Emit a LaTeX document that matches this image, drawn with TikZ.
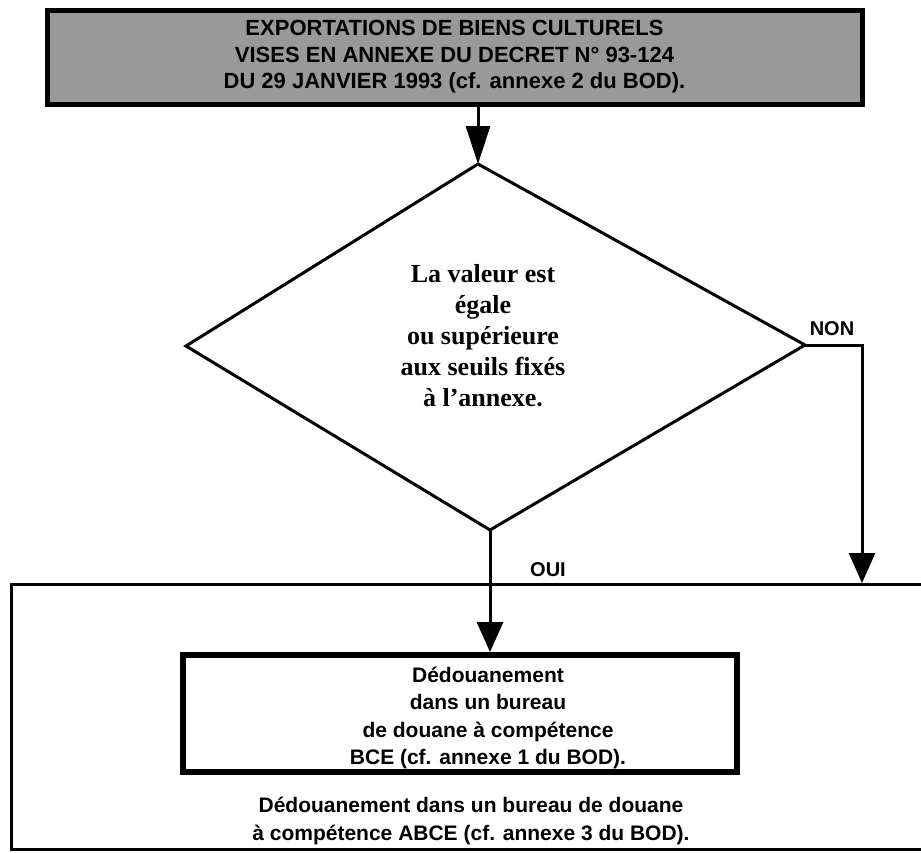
\documentclass[tikz,border=0pt]{standalone}
\usepackage{fontspec}
\setmainfont{Liberation Serif}
\newfontfamily\sansf{Liberation Sans}
\usetikzlibrary{arrows.meta}
\begin{document}
\begin{tikzpicture}[x=1pt,y=-1pt,
  conn/.style={line width=3pt},
  arr/.style={-{Triangle[width=26pt,length=30pt]}},
  longarr/.style={-{Triangle[width=24pt,length=38pt]}},
  topbox/.style={draw, line width=5pt, fill=black!40, minimum width=815pt, minimum height=94pt,
    inner sep=0pt, align=center, font=\sansf\bfseries\fontsize{22}{26.5}\selectfont},
  dectext/.style={align=center, inner sep=0pt, font=\bfseries\fontsize{26}{31}\selectfont},
  bcebox/.style={draw, line width=6pt, minimum width=554pt, minimum height=117pt, inner sep=0pt},
  outerbox/.style={draw, line width=3pt, minimum width=930pt, minimum height=265pt, inner sep=0pt},
  txt/.style={align=center, inner sep=0pt, font=\sansf\bfseries\fontsize{21}{27.5}\selectfont},
  lbl/.style={inner sep=0pt, font=\sansf\bfseries\fontsize{20}{24}\selectfont}
]
\clip (0,0) rectangle (921,852);
\fill[white] (0,0) rectangle (921,852);

% top box
\node[topbox] (top) at (454.5,57) {EXPORTATIONS DE BIENS CULTURELS\\VISES EN ANNEXE DU DECRET N° 93-124\\DU 29 JANVIER 1993 (cf. annexe 2 du BOD).};

% decision diamond
\coordinate (dN) at (478,164);
\coordinate (dE) at (805,345);
\coordinate (dS) at (490,530);
\coordinate (dW) at (186,346);
\draw[line width=3pt, line join=miter] (dN) -- (dE) -- (dS) -- (dW) -- cycle;
\node[dectext] (q) at (483,336) {La valeur est\\égale\\ou supérieure\\aux seuils fixés\\à l'annexe.};

\draw[conn,longarr] (top.south -| dN) -- (dN);

% outer box and inner box
\node[outerbox, anchor=north west] (outer) at (10,583) {};
\node[bcebox] (bce) at (460,713.5) {};
\node[txt] (bcetext) at (488,718) {Dédouanement\\dans un bureau\\de douane à compétence\\BCE (cf. annexe 1 du BOD).};
\node[txt] (abce) at (471,821) {Dédouanement dans un bureau de douane\\à compétence ABCE (cf. annexe 3 du BOD).};

% NON branch
\coordinate (nonc) at (862,345);
\draw[conn,arr] (dE) -- (nonc) -- (nonc |- outer.north);
\node[lbl] (non) at (832,329) {NON};

% OUI branch
\draw[conn,arr] (dS) -- (dS |- bce.north);
\node[lbl] (oui) at (548,570) {OUI};
\end{tikzpicture}
\end{document}
